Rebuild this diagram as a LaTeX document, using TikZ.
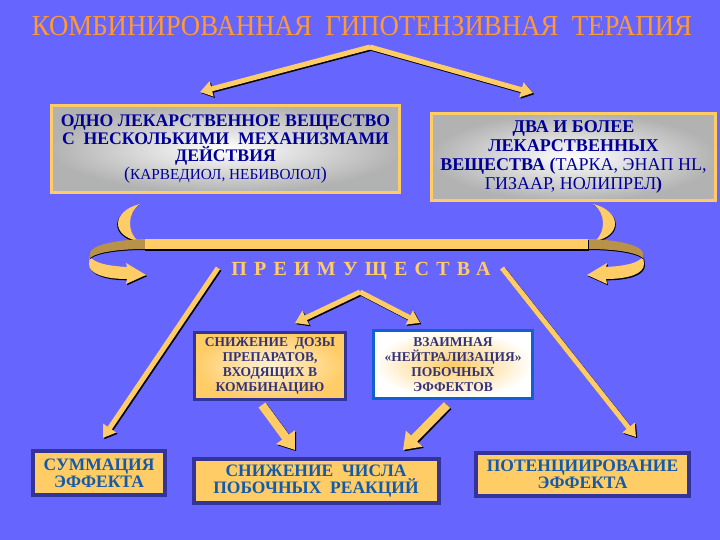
\documentclass[tikz,border=0pt]{standalone}
\usepackage{fontspec}
\setmainfont{Liberation Serif}
\usetikzlibrary{arrows.meta}
\definecolor{bg}{RGB}{102,102,255}
\definecolor{arrowc}{RGB}{255,204,102}
\definecolor{ribdark}{RGB}{184,146,72}
\definecolor{titlec}{RGB}{255,153,51}
\definecolor{navy}{RGB}{0,0,153}
\definecolor{boxline}{RGB}{51,51,153}
\definecolor{blueline}{RGB}{16,96,208}
\definecolor{txtblue}{RGB}{20,90,170}
\definecolor{txtnavy}{RGB}{51,51,120}
\definecolor{lightor}{RGB}{255,242,215}
\newcommand\fatarrow[3]{%
  \draw[#1, draw=black, transform canvas={shift={(1.3pt,-1.3pt)}}] (#2) -- (#3);
  \draw[#1] (#2) -- (#3);}
\begin{document}
\begin{tikzpicture}[x=1pt,y=-1pt,
  arrA/.style={line width=5pt, draw=arrowc, -{Triangle[length=12pt,width=15pt]}},
  arrB/.style={line width=8.5pt, draw=arrowc, -{Triangle[length=16pt,width=22pt]}},
  topbox/.style={draw=arrowc, line width=3pt, inner color=white, outer color=gray!60,
    align=center, text=navy, inner sep=0pt},
  midbox/.style={line width=3pt, align=center, inner sep=0pt,
    font=\bfseries\fontsize{13.5}{15}\selectfont},
  lowbox/.style={draw=boxline, fill=arrowc, line width=4pt, align=center, inner sep=0pt,
    text=txtblue, font=\bfseries\fontsize{17.5}{17}\selectfont}]
\fill[bg] (0,0) rectangle (720,540);
\useasboundingbox (0,0) rectangle (720,540);

% title
\node[text=titlec, font=\fontsize{29}{29}\selectfont, inner sep=0pt, xscale=0.925, transform shape] (title) at (362,26)
  {КОМБИНИРОВАННАЯ\ \ ГИПОТЕНЗИВНАЯ\ \ ТЕРАПИЯ};

% top boxes
\node[topbox, minimum width=348pt, minimum height=87pt,
  font=\bfseries\fontsize{17.7}{17.4}\selectfont] (b1) at (225.5,149)
  {ОДНО ЛЕКАРСТВЕННОЕ ВЕЩЕСТВО\\
   С\ \ НЕСКОЛЬКИМИ\ \ МЕХАНИЗМАМИ\\
   ДЕЙСТВИЯ\\
   {\mdseries\fontsize{18}{17.4}\selectfont(\fontsize{15.3}{17.4}\selectfont КАРВЕДИОЛ, НЕБИВОЛОЛ\fontsize{18}{17.4}\selectfont)}};
\node[topbox, minimum width=284pt, minimum height=87pt,
  font=\bfseries\fontsize{18}{19}\selectfont] (b2) at (573.5,157)
  {ДВА И БОЛЕЕ\\
   ЛЕКАРСТВЕННЫХ\\
   ВЕЩЕСТВА (\mdseries ТАРКА, ЭНАП HL,\\
   \mdseries ГИЗААР, НОЛИПРЕЛ\bfseries)};

% bracket: crescents, bar, ribbons
\begin{scope}
  \fill[black, transform canvas={shift={(-0.8pt,-1pt)}}] (140,204) .. controls (111,211) and (111,236) .. (138,241) .. controls (127,232) and (127,213) .. (140,204) -- cycle;
  \fill[arrowc] (140,204) .. controls (111,211) and (111,236) .. (138,241) .. controls (127,232) and (127,213) .. (140,204) -- cycle;
  \fill[black, transform canvas={shift={(1pt,-1.3pt)}}] (90,256) .. controls (93,263) and (108,266) .. (127,267) -- (126,263) -- (146,275) -- (126,284) -- (127,279) .. controls (105,279) and (89,274) .. (89,264) -- cycle;
  \fill[arrowc] (90,256) .. controls (93,263) and (108,266) .. (127,267) -- (126,263) -- (146,275) -- (126,284) -- (127,279) .. controls (105,279) and (89,274) .. (89,264) -- cycle;
  \fill[black, transform canvas={shift={(0pt,-1pt)}}] (145,239) .. controls (112,240) and (91,246) .. (90,253) -- (90,258) .. controls (97,252) and (120,249) .. (145,249) -- cycle;
  \fill[ribdark] (145,239) .. controls (112,240) and (91,246) .. (90,253) -- (90,258) .. controls (97,252) and (120,249) .. (145,249) -- cycle;
\end{scope}
\begin{scope}[xshift=733pt, xscale=-1]
  \fill[black, transform canvas={shift={(0.8pt,-1pt)}}] (140,204) .. controls (111,211) and (111,236) .. (138,241) .. controls (127,232) and (127,213) .. (140,204) -- cycle;
  \fill[arrowc] (140,204) .. controls (111,211) and (111,236) .. (138,241) .. controls (127,232) and (127,213) .. (140,204) -- cycle;
  \fill[black, transform canvas={shift={(1pt,-1.3pt)}}] (90,256) .. controls (93,263) and (108,266) .. (127,267) -- (126,263) -- (146,275) -- (126,284) -- (127,279) .. controls (105,279) and (89,274) .. (89,264) -- cycle;
  \fill[arrowc] (90,256) .. controls (93,263) and (108,266) .. (127,267) -- (126,263) -- (146,275) -- (126,284) -- (127,279) .. controls (105,279) and (89,274) .. (89,264) -- cycle;
  \fill[black, transform canvas={shift={(0pt,-1pt)}}] (145,239) .. controls (112,240) and (91,246) .. (90,253) -- (90,258) .. controls (97,252) and (120,249) .. (145,249) -- cycle;
  \fill[ribdark] (145,239) .. controls (112,240) and (91,246) .. (90,253) -- (90,258) .. controls (97,252) and (120,249) .. (145,249) -- cycle;
\end{scope}
\fill[black] (145,240) rectangle (589,250.5);
\fill[arrowc] (145,239) rectangle (588,249);

% advantages
\node[text=arrowc, font=\bfseries\fontsize{20}{20}\selectfont\addfontfeature{LetterSpace=36}, inner sep=0pt] (adv) at (361,271) {ПРЕИМУЩЕСТВА};

% middle boxes
\node[midbox, draw=boxline, inner color=lightor, outer color=arrowc, text=txtnavy,
  minimum width=151pt, minimum height=67pt] (b3) at (270,366)
  {СНИЖЕНИЕ\ \ ДОЗЫ\\ ПРЕПАРАТОВ,\\ ВХОДЯЩИХ В\\ КОМБИНАЦИЮ};
\node[midbox, draw=blueline, inner color=arrowc, outer color=white, text=txtnavy,
  minimum width=159pt, minimum height=68pt] (b4) at (453,364.5)
  {ВЗАИМНАЯ\\ «НЕЙТРАЛИЗАЦИЯ»\\ ПОБОЧНЫХ\\ ЭФФЕКТОВ};

% bottom boxes
\node[lowbox, minimum width=132pt, minimum height=44pt] (b5) at (99,473) {СУММАЦИЯ\\ ЭФФЕКТА};
\node[lowbox, minimum width=245pt, minimum height=44pt] (b6) at (316,481) {СНИЖЕНИЕ\ \ ЧИСЛА\\ ПОБОЧНЫХ\ \ РЕАКЦИЙ};
\node[lowbox, minimum width=213pt, minimum height=43pt] (b7) at (582.5,474.5) {ПОТЕНЦИИРОВАНИЕ\\ ЭФФЕКТА};

% arrow coordinates
\coordinate (apex1) at (370,47);
\coordinate (t1L) at (200,92);
\coordinate (t1R) at (533,93);
\coordinate (l1s) at (218,268);
\coordinate (l1e) at (103,438);
\coordinate (r1s) at (502,268);
\coordinate (r1e) at (636,437);
\coordinate (apex2) at (360,292);
\coordinate (t2L) at (295,323);
\coordinate (t2R) at (420,323);
\coordinate (l3s) at (262,405);
\coordinate (l3e) at (295,450);
\coordinate (r3s) at (447,405);
\coordinate (r3e) at (403,450);

\fatarrow{arrA}{apex1}{t1L}
\fatarrow{arrA}{apex1}{t1R}
\fatarrow{arrA}{l1s}{l1e}
\fatarrow{arrA}{r1s}{r1e}
\fatarrow{arrA}{apex2}{t2L}
\fatarrow{arrA}{apex2}{t2R}
\fatarrow{arrB}{l3s}{l3e}
\fatarrow{arrB}{r3s}{r3e}
\end{tikzpicture}
\end{document}
